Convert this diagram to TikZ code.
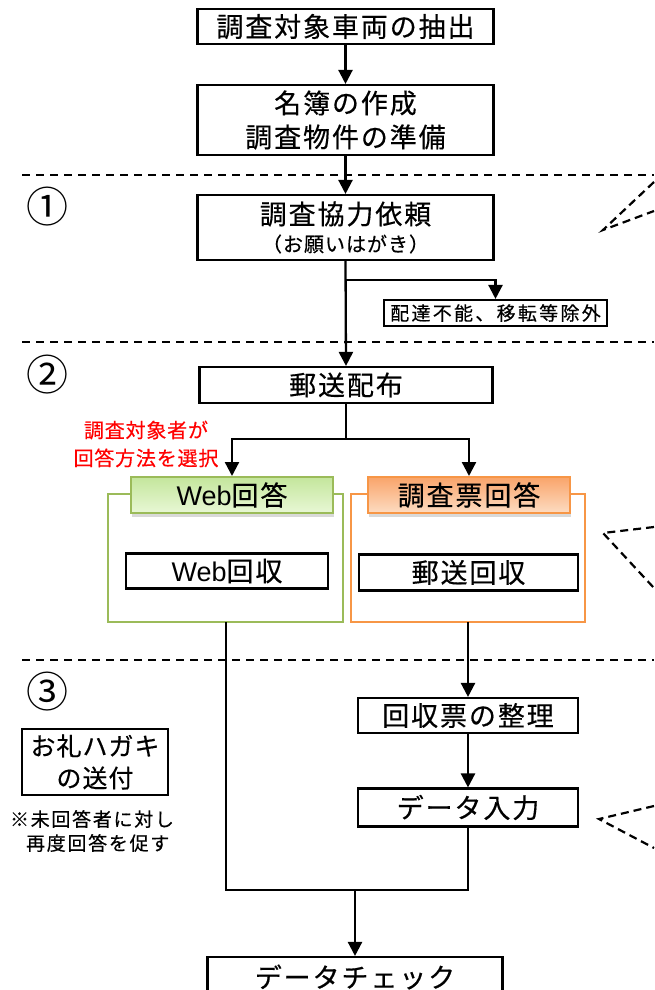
\documentclass[tikz,border=0pt]{standalone}
\usepackage{fontspec}
\setmainfont{Noto Sans CJK JP}[FakeBold=0.4]
\newfontfamily\latinfont{Liberation Sans}
\usetikzlibrary{arrows.meta,shadows,calc}
\definecolor{gborder}{HTML}{9BBB59}
\definecolor{oborder}{HTML}{F79646}
\definecolor{gtop}{HTML}{C4E69C}
\definecolor{gbot}{HTML}{E8F7D5}
\definecolor{otop}{HTML}{F9A46A}
\definecolor{obot}{HTML}{FDDCC2}
\tikzset{
  box/.style={draw=black, line width=2.1pt, fill=white, inner sep=0pt, align=center},
  bigtxt/.style={font=\fontsize{27}{34}\selectfont\addfontfeature{LetterSpace=7}},
  midtxt/.style={font=\fontsize{25}{32}\selectfont\addfontfeature{LetterSpace=4}},
  smalltxt/.style={font=\fontsize{19}{22}\selectfont\addfontfeature{LetterSpace=12}},
  redtxt/.style={font=\fontsize{20}{28}\selectfont\addfontfeature{LetterSpace=4}, text=red, align=center},
  notetxt/.style={font=\fontsize{19}{24}\selectfont\addfontfeature{LetterSpace=9}, align=center},
  numtxt/.style={font=\fontsize{42}{42}\selectfont\addfontfeature{FakeBold=0}},
  conn/.style={line width=2.3pt},
  arr/.style={line width=2.3pt, -{Triangle[width=14pt,length=14pt]}},
  sepline/.style={line width=2pt, dash pattern=on 8pt off 6pt},
  callout/.style={line width=2.2pt, dash pattern=on 8pt off 5pt},
  hdr/.style={line width=2pt, inner sep=0pt, minimum width=202pt, minimum height=36pt,
     drop shadow={opacity=0.3, shadow xshift=1pt, shadow yshift=-4pt}},
}
\begin{document}
\begin{tikzpicture}[x=1pt,y=-1pt]
\useasboundingbox (0,0) rectangle (654,990);

% separators
\draw[sepline] (22,175) -- (654,175);
\draw[sepline] (22,342) -- (654,342);
\draw[sepline] (22,660) -- (654,660);

% callouts
\draw[callout] (654,182) -- (603,230) -- (654,211);
\draw[callout] (654,527) -- (603,533) -- (654,588);
\draw[callout] (654,806) -- (599,819) -- (654,848);

% step numbers
\node[numtxt] (c1) at (47,207) {①};
\node[numtxt] (c2) at (47,375) {②};
\node[numtxt] (c3) at (47,692) {③};

% frames
\draw[gborder, line width=1.5pt] (108,494) rectangle (343,622);
\draw[oborder, line width=1.5pt] (351,494) rectangle (585,622);

% boxes
\node[box,bigtxt,minimum width=296pt,minimum height=35pt] (n1) at (345.5,26.5) {調査対象車両の抽出};
\node[box,bigtxt,minimum width=296pt,minimum height=70pt] (n2) at (345.5,120) {名簿の作成\\調査物件の準備};
\node[box,minimum width=296pt,minimum height=65pt] (n3) at (345.5,227.5) {};
\node[bigtxt] (n3a) at (345.5,214) {調査協力依頼};
\node[font=\fontsize{20}{22}\selectfont\addfontfeature{LetterSpace=5}] (n3b) at (345.5,244) {（お願いはがき）};
\node[box,smalltxt,minimum width=223pt,minimum height=26pt] (nx) at (495.5,313) {配達不能、移転等除外};
\node[box,bigtxt,minimum width=293pt,minimum height=36pt] (n4) at (346,385) {郵送配布};

\node[hdr, draw=gborder, top color=gtop, bottom color=gbot, bigtxt] (hw) at (232,495) {{\latinfont Web}回答};
\node[hdr, draw=oborder, top color=otop, bottom color=obot, bigtxt] (ho) at (469,495) {調査票回答};

\node[box,bigtxt,minimum width=202pt,minimum height=35pt] (rw) at (227,571) {{\latinfont Web}回収};
\node[box,bigtxt,minimum width=219pt,minimum height=36pt] (ro) at (468.5,572.5) {郵送回収};

\node[box,bigtxt,minimum width=220pt,minimum height=35pt] (s1) at (468,715.5) {回収票の整理};
\node[box,bigtxt,minimum width=220pt,minimum height=38pt] (s2) at (468,807.5) {データ入力};

\node[box,midtxt,minimum width=146pt,minimum height=66pt] (thx) at (95,762) {お礼ハガキ\\の送付};
\node[notetxt] (note) at (92,831) {※未回答者に対し\\\hspace*{0.6em}再度回答を促す};

\node[redtxt] (sel) at (146,444) {調査対象者が\\回答方法を選択};

\node[box,bigtxt,minimum width=295pt,minimum height=40pt] (chk) at (355,977) {データチェック};

% connectors
\draw[arr] (n1.south) -- (n2.north);
\draw[arr] (n2.south) -- (n3.north);
\draw[arr] (n3.south) -- (n4.north);
\coordinate (br) at (345.5,280);
\draw[arr] (br) -| (nx.north);
\coordinate (sp) at (346,439);
\draw[conn] (n4.south) -- (sp);
\draw[arr] (sp) -| (hw.north);
\draw[arr] (sp) -| (ho.north);
\coordinate (wb) at (226,622);
\coordinate (ob) at (468,622);
\draw[arr] (ob) -- (s1.north);
\draw[arr] (s1.south) -- (s2.north);
\coordinate (jw) at (226,890);
\coordinate (jm) at (355,890);
\draw[conn] (wb) -- (jw) -- (s2.south |- jw) -- (s2.south);
\draw[arr] (jm) -- (chk.north);
\end{tikzpicture}
\end{document}
